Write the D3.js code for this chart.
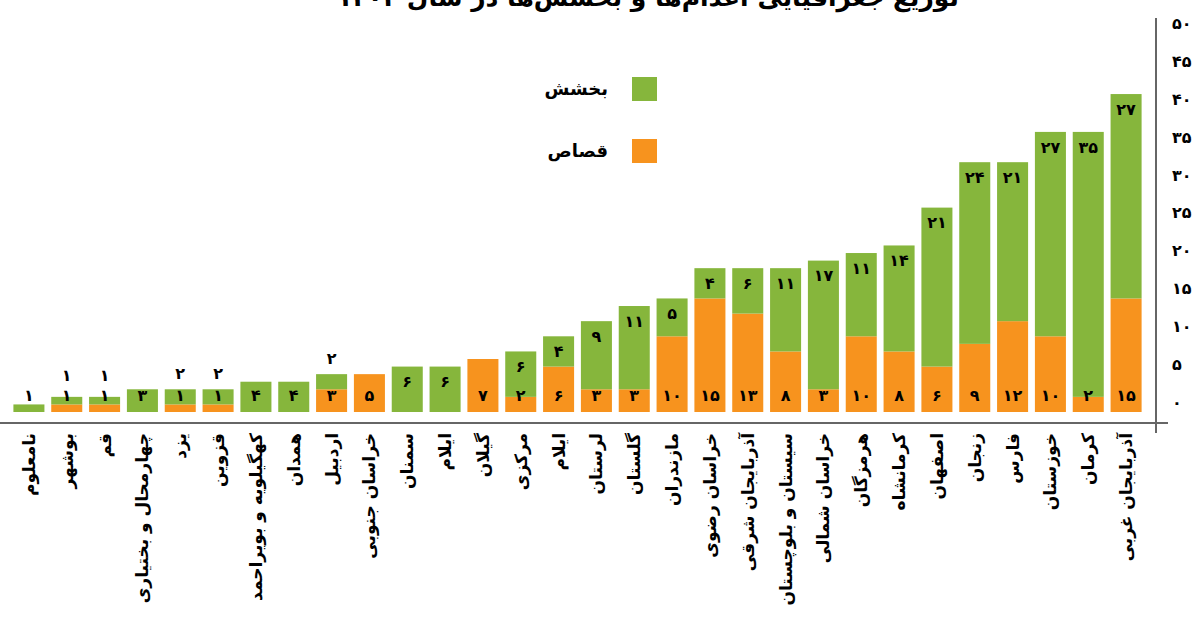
<!DOCTYPE html>
<html>
<head>
<meta charset="utf-8">
<script src="https://cdn.jsdelivr.net/npm/d3@7"></script>
<style>
  body { margin: 0; background: #fff; }
  svg { display: block; font-family: "DejaVu Sans", sans-serif; font-weight: bold; }
</style>
</head>
<body>
<svg width="1200" height="617"></svg>
<script>
// provinces, left to right (note: "ایلام" appears twice in the original)
var provinces = ["نامعلوم", "بوشهر", "قم", "چهارمحال و بختیاری", "یزد", "قزوین",
  "کهگیلویه و بویراحمد", "همدان", "اردبیل", "خراسان جنوبی", "سمنان", "ایلام", "گیلان",
  "مرکزی", "ایلام", "لرستان", "گلستان", "مازندران", "خراسان رضوی", "آذربایجان شرقی",
  "سیستان و بلوچستان", "خراسان شمالی", "هرمزگان", "کرمانشاه", "اصفهان", "زنجان",
  "فارس", "خوزستان", "کرمان", "آذربایجان غربی"];

// قصاص (orange, bottom)
var qesas = [0, 1, 1, 0, 1, 1, 0, 0, 3, 5, 0, 0, 7, 2, 6, 3, 3, 10, 15, 13, 8, 3, 10, 8, 6, 9, 12, 10, 2, 15];
// بخشش (green, top)
var bakhshesh = [1, 1, 1, 3, 2, 2, 4, 4, 2, 0, 6, 6, 0, 6, 4, 9, 11, 5, 4, 6, 11, 17, 11, 14, 21, 24, 21, 27, 35, 27];

var yTicks = [0, 5, 10, 15, 20, 25, 30, 35, 40, 45, 50];
var seriesNames = ["بخشش", "قصاص"];
var titleText = "توزیع جغرافیایی اعدام‌ها و بخشش‌ها در سال ۱۴۰۲";

var green = "#86b63c", orange = "#f7931e";

function fa(n) {
  return String(n).replace(/\d/g, function(d) { return "۰۱۲۳۴۵۶۷۸۹"[d]; });
}

var svg = d3.select("svg");

var xScale = d3.scaleBand()
  .domain(d3.range(provinces.length))
  .range([10, 1145])
  .paddingInner(0.18)
  .paddingOuter(0.09);

var yScale = d3.scaleLinear()
  .domain([0, 50])
  .range([412, 33.5]);

// title (top half is cut off in the original)
svg.append("text")
  .attr("x", 648)
  .attr("y", 6)
  .attr("text-anchor", "middle")
  .style("font-size", "25px")
  .text(titleText);

// bars
var rows = provinces.map(function(p, i) {
  return { i: i, name: p, q: qesas[i], b: bakhshesh[i] };
});

var plot = svg.append("g");

plot.selectAll("rect.q")
  .data(rows.filter(function(d) { return d.q > 0; }))
  .enter().append("rect")
  .attr("class", "q")
  .attr("x", function(d) { return xScale(d.i); })
  .attr("width", xScale.bandwidth())
  .attr("y", function(d) { return yScale(d.q); })
  .attr("height", function(d) { return yScale(0) - yScale(d.q); })
  .attr("fill", orange);

plot.selectAll("rect.b")
  .data(rows.filter(function(d) { return d.b > 0; }))
  .enter().append("rect")
  .attr("class", "b")
  .attr("x", function(d) { return xScale(d.i); })
  .attr("width", xScale.bandwidth())
  .attr("y", function(d) { return yScale(d.q + d.b); })
  .attr("height", function(d) { return yScale(d.q) - yScale(d.q + d.b); })
  .attr("fill", green);

// value labels
var cx = function(d) { return xScale(d.i) + xScale.bandwidth() / 2; };

plot.selectAll("text.ql")
  .data(rows.filter(function(d) { return d.q > 0; }))
  .enter().append("text")
  .attr("x", cx)
  .attr("y", yScale(0) - 17)
  .attr("dy", "0.35em")
  .attr("text-anchor", "middle")
  .style("font-size", "16px")
  .text(function(d) { return fa(d.q); });

plot.selectAll("text.bl")
  .data(rows.filter(function(d) { return d.b > 0; }))
  .enter().append("text")
  .attr("x", cx)
  .attr("y", function(d) {
    var top = yScale(d.q + d.b);
    if (d.q === 0) return Math.min(top + 15, yScale(0) - 17);
    if (d.b <= 2) return Math.min(top - 16, 375);
    return top + 15;
  })
  .attr("dy", "0.35em")
  .attr("text-anchor", "middle")
  .style("font-size", "16px")
  .text(function(d) { return fa(d.b); });

// axis lines
svg.append("line")
  .attr("x1", 0).attr("x2", 1168)
  .attr("y1", 423).attr("y2", 423)
  .attr("stroke", "#666").attr("stroke-width", 2);
svg.append("line")
  .attr("x1", 1156).attr("x2", 1156)
  .attr("y1", 18).attr("y2", 433)
  .attr("stroke", "#666").attr("stroke-width", 2);

// y axis on the right
var yAxis = d3.axisRight(yScale)
  .tickValues(yTicks)
  .tickSize(0)
  .tickPadding(16)
  .tickFormat(fa);

var yGroup = svg.append("g")
  .attr("transform", "translate(1156,0)")
  .call(yAxis);
yGroup.select(".domain").remove();
yGroup.selectAll("text")
  .attr("dy", "-0.3em")
  .style("font-size", "16px")
  .style("font-family", "DejaVu Sans")
  .style("font-weight", "bold")
  .attr("fill", "#000");

// x labels, rotated
svg.append("g").selectAll("text")
  .data(rows)
  .enter().append("text")
  .attr("transform", function(d) { return "translate(" + cx(d) + ",433) rotate(-90)"; })
  .attr("text-anchor", "end")
  .attr("dominant-baseline", "central")
  .style("font-size", "17px")
  .text(function(d) { return d.name; });

// legend
var legend = svg.append("g");
[green, orange].forEach(function(c, i) {
  legend.append("rect")
    .attr("x", 632).attr("y", 77 + i * 62)
    .attr("width", 25).attr("height", 24)
    .attr("fill", c);
  legend.append("text")
    .attr("x", 608).attr("y", 89 + i * 62)
    .attr("dy", "0.35em")
    .attr("text-anchor", "end")
    .style("font-size", "18px")
    .text(seriesNames[i]);
});
</script>
</body>
</html>
